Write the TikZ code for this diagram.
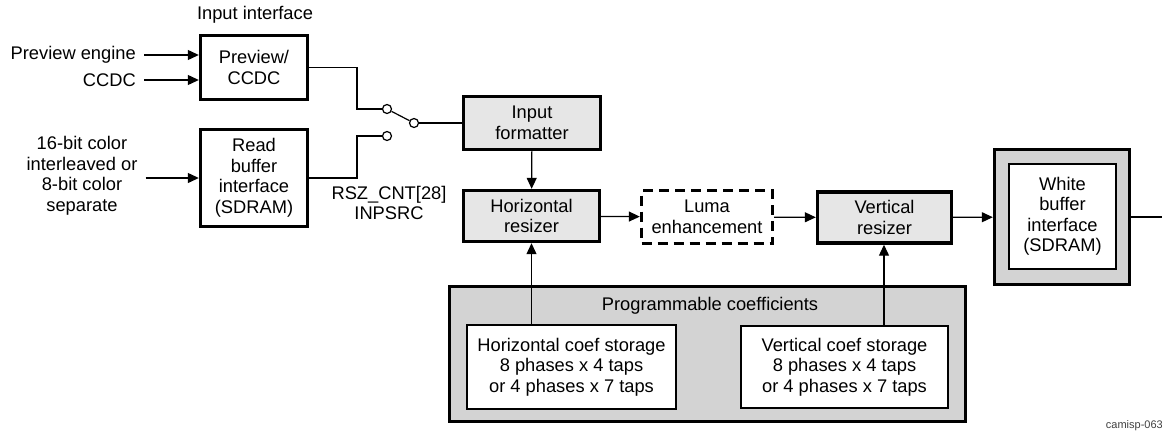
\documentclass[tikz,border=0pt]{standalone}
\usepackage{fontspec}
\setmainfont{Liberation Sans}
\usetikzlibrary{arrows.meta, calc}
\definecolor{lightfill}{HTML}{E6E6E6}
\definecolor{darkfill}{HTML}{D3D3D3}
\tikzstyle{blk}=[draw, line width=3.4pt, align=center, inner sep=0pt, font=\fontsize{18.3}{20.5}\selectfont]
\tikzstyle{gblk}=[blk, fill=lightfill]
\tikzstyle{inblk}=[draw, line width=1.8pt, fill=white, align=center, inner sep=0pt, font=\fontsize{18.3}{20.5}\selectfont]
\tikzstyle{lbl}=[align=center, inner sep=2pt, font=\fontsize{18.3}{20.5}\selectfont]
\tikzstyle{pin}=[circle, draw, fill=white, line width=1.2pt, minimum size=9pt, inner sep=0pt]
\tikzstyle{arr}=[line width=1.2pt, -{Triangle[length=11pt,width=10pt]}]
\tikzstyle{wire}=[line width=1.2pt]

\begin{document}
\begin{tikzpicture}[x=1pt, y=-1pt]
			\useasboundingbox (0,0) rectangle (1162,445);
			% input interface
			\node[lbl] (title) at (255,15) {Input interface};
			\node[blk, minimum width=107pt, minimum height=64pt] (prev) at (254,67.5) {Preview/\\CCDC};
			\node[blk, minimum width=107pt, minimum height=97pt] (rbuf) at (254,178) {Read\\buffer\\interface\\(SDRAM)};
			\node[lbl, anchor=east] (pe) at (138,55) {Preview engine};
			\node[lbl, anchor=east] (cc) at (138,80) {CCDC};
			\node[lbl] (src) at (82,176) {16-bit color\\interleaved or\\8-bit color\\separate};
			\draw[arr] ([xshift=6pt]pe.east) -- (prev.west |- pe.east);
			\draw[arr] ([xshift=6pt]cc.east) -- (prev.west |- cc.east);
			\draw[arr] ([xshift=6pt]src.east |- rbuf.west) -- (rbuf.west);
			% input select switch
			\node[pin] (s1) at (387,109) {};
			\node[pin] (s2) at (387,136) {};
			\node[pin] (sc) at (414,123) {};
			\node[lbl] (sel) at (389,203) {RSZ\_CNT[28]\\INPSRC};
			\draw[wire] (prev.east) -| ([xshift=-25pt]s1.west) -- (s1);
			\draw[wire] (rbuf.east) -| ([xshift=-25pt]s2.west) -- (s2);
			\draw[wire] (s1) -- (sc);
			% resizer path
			\node[gblk, minimum width=137pt, minimum height=53pt] (fmt) at (532,123) {Input\\formatter};
			\node[gblk, minimum width=136pt, minimum height=51pt] (hres) at (531.5,216) {Horizontal\\resizer};
			\node[blk, dash pattern=on 10pt off 6pt, minimum width=131pt, minimum height=53pt] (luma) at (707,217) {Luma\\enhancement};
			\node[gblk, minimum width=134pt, minimum height=51pt] (vres) at (884.5,217.5) {Vertical\\resizer};
			\node[blk, fill=darkfill, minimum width=135pt, minimum height=135pt] (wout) at (1062,217) {};
			\node[inblk, minimum width=107pt, minimum height=105pt] (wbuf) at (1062.5,216.5) {White\\buffer\\interface\\(SDRAM)};
			\coordinate (out) at (1177,217);
			\draw[wire] (sc) -- (fmt);
			\draw[arr] (fmt) -- (hres);
			\draw[arr] (hres) -- (luma);
			\draw[arr] (luma) -- (vres);
			\draw[arr] (vres) -- (wout);
			\draw[arr] (wout) -- (out);
			% coefficient memory
			\node[blk, fill=darkfill, minimum width=516pt, minimum height=135pt] (coef) at (707.5,354) {};
			\node[lbl] (ctitle) at (710,306) {Programmable coefficients};
			\node[inblk, minimum width=209pt, minimum height=84pt] (hcoef) at (571.5,367) {Horizontal coef storage\\8 phases x 4 taps\\or 4 phases x 7 taps};
			\node[inblk, minimum width=207pt, minimum height=82pt] (vcoef) at (844.5,367) {Vertical coef storage\\8 phases x 4 taps\\or 4 phases x 7 taps};
			\draw[arr] (hres.south |- hcoef.north) -- (hres.south);
			\draw[arr] ([xshift=-0.5pt]vres.south |- vcoef.north) -- ([xshift=-0.5pt]vres.south);
			\node[anchor=south east, inner sep=0pt, text=black!75, font=\fontsize{11}{13}\selectfont] (tag) at (1163,431) {camisp-063};
		\end{tikzpicture}
\end{document}
